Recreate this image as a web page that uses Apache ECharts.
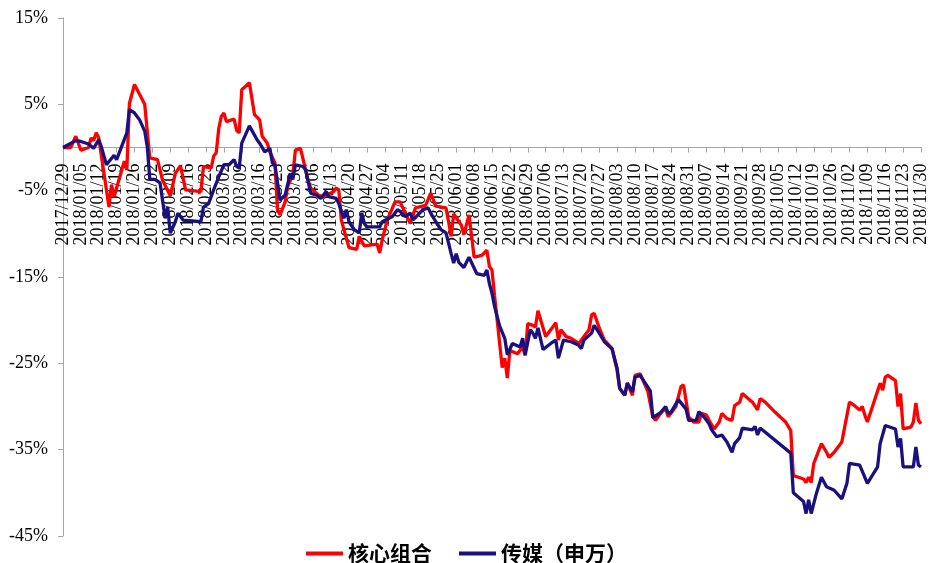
<!DOCTYPE html>
<html>
<head>
<meta charset="utf-8">
<script src="https://cdn.jsdelivr.net/npm/echarts@6/dist/echarts.min.js"></script>
<style>
  html, body { margin: 0; padding: 0; background: #fff; }
  #chart { width: 931px; height: 563px; }
</style>
</head>
<body>
<div id="chart"></div>
<script>
// Calendar range of the x axis (one category per day, labelled weekly)
const startDate = '2017/12/29';
const endDate = '2018/11/30';

// Y axis tick labels (percent)
const yTicks = [-45, -35, -25, -15, -5, 5, 15];

// Series names
const seriesNames = ['核心组合', '传媒（申万）'];

// 核心组合: cumulative return (%) at each date (MM/DD)
const coreDates = ['12/29','01/01','01/03','01/05','01/08','01/09','01/10','01/11','01/12','01/16','01/17','01/18','01/22','01/23','01/24','01/26','01/30','02/01','02/04','02/06','02/09','02/11','02/13','02/15','02/21','02/22','02/25','02/26','02/27','02/28','03/01','03/02','03/03','03/06','03/07','03/08','03/09','03/12','03/14','03/16','03/17','03/19','03/20','03/22','03/23','03/24','03/26','03/27','03/29','03/30','04/01','04/04','04/05','04/08','04/10','04/14','04/15','04/16','04/17','04/18','04/20','04/23','04/24','04/26','05/01','05/02','05/03','05/05','05/08','05/10','05/14','05/16','05/20','05/22','05/24','05/28','05/29','05/30','05/31','06/03','06/04','06/06','06/08','06/11','06/13','06/14','06/15','06/16','06/17','06/19','06/20','06/21','06/22','06/25','06/27','06/28','06/29','07/01','07/02','07/03','07/06','07/08','07/10','07/11','07/12','07/14','07/16','07/19','07/21','07/23','07/24','07/25','07/27','07/29','08/01','08/03','08/04','08/06','08/07','08/09','08/10','08/12','08/15','08/17','08/18','08/20','08/22','08/23','08/24','08/26','08/28','08/29','08/31','09/02','09/04','09/05','09/07','09/08','09/10','09/11','09/12','09/13','09/15','09/17','09/18','09/20','09/21','09/25','09/27','09/28','09/30','10/04','10/08','10/10','10/11','10/13','10/15','10/16','10/17','10/18','10/19','10/22','10/24','10/25','10/27','10/30','11/02','11/04','11/06','11/07','11/08','11/09','11/14','11/15','11/16','11/17','11/20','11/21','11/22','11/23','11/26','11/27','11/28','11/29','11/30'];
const coreValues = [0.0,0.0,1.3,-0.3,0.0,1.1,0.8,1.7,1.1,-6.9,-4.3,-5.7,-1.6,-2.6,5.1,7.3,5.0,-1.2,-1.4,-3.8,-5.6,-3.0,-2.1,-4.9,-5.1,-2.2,-2.4,-1.0,-0.6,2.2,3.6,4.0,3.0,3.3,2.0,1.7,6.7,7.5,3.8,3.2,1.3,0.5,-0.5,-1.8,-7.2,-7.8,-6.3,-4.5,-3.2,-0.3,-0.1,-3.8,-4.7,-5.5,-5.7,-5.1,-4.7,-4.9,-8.4,-9.5,-11.6,-11.8,-10.3,-11.4,-11.2,-12.2,-10.7,-8.4,-6.3,-6.3,-8.8,-7.0,-6.7,-5.3,-6.8,-7.0,-8.6,-10.3,-7.7,-9.0,-10.1,-7.8,-12.7,-12.5,-11.9,-13.8,-14.2,-17.2,-19.9,-25.5,-24.4,-26.7,-23.5,-23.9,-23.1,-24.1,-20.4,-20.6,-20.8,-18.9,-21.9,-21.1,-20.3,-22.3,-21.1,-21.9,-22.1,-22.7,-21.9,-21.1,-19.4,-19.2,-20.9,-22.3,-23.3,-25.8,-27.9,-28.7,-27.3,-28.7,-26.4,-26.2,-28.2,-31.2,-31.6,-30.8,-30.2,-31.2,-30.8,-30.0,-27.7,-27.5,-31.2,-31.8,-31.8,-30.8,-31.0,-31.6,-32.6,-32.2,-31.8,-30.8,-31.4,-31.6,-29.9,-29.5,-28.5,-29.5,-30.4,-29.1,-29.5,-30.7,-31.8,-32.8,-38.0,-38.2,-38.4,-38.8,-38.2,-38.8,-36.6,-34.3,-35.3,-35.9,-35.3,-34.1,-29.5,-29.9,-30.4,-30.0,-31.0,-31.8,-27.3,-28.1,-26.6,-26.4,-27.0,-30.0,-28.5,-32.6,-32.4,-31.8,-29.6,-31.6,-32.0];

// 传媒（申万）: cumulative return (%) at each date (MM/DD)
const mediaDates = ['12/29','01/03','01/05','01/08','01/10','01/12','01/13','01/15','01/18','01/19','01/23','01/24','01/26','01/28','01/30','01/31','02/01','02/03','02/05','02/07','02/08','02/09','02/11','02/12','02/14','02/21','02/22','02/24','02/26','02/28','03/02','03/04','03/06','03/07','03/08','03/09','03/12','03/15','03/16','03/18','03/20','03/21','03/22','03/24','03/26','03/28','03/29','03/30','04/02','04/03','04/05','04/07','04/09','04/11','04/12','04/15','04/16','04/18','04/19','04/20','04/22','04/24','04/25','04/26','04/27','05/02','05/03','05/07','05/09','05/10','05/12','05/14','05/15','05/17','05/19','05/21','05/22','05/24','05/26','05/28','05/30','05/31','06/01','06/02','06/04','06/06','06/09','06/12','06/13','06/14','06/15','06/16','06/18','06/20','06/21','06/23','06/26','06/27','06/28','06/30','07/01','07/02','07/03','07/05','07/08','07/10','07/11','07/13','07/16','07/19','07/20','07/21','07/24','07/25','07/27','07/29','08/01','08/03','08/04','08/06','08/07','08/09','08/10','08/12','08/16','08/17','08/20','08/22','08/23','08/24','08/27','08/30','08/31','09/03','09/04','09/06','09/08','09/09','09/11','09/13','09/15','09/17','09/18','09/20','09/21','09/25','09/26','09/27','09/28','10/10','10/11','10/15','10/16','10/17','10/18','10/20','10/22','10/24','10/27','10/30','11/01','11/02','11/06','11/09','11/13','11/14','11/16','11/18','11/20','11/21','11/22','11/23','11/27','11/28','11/29','11/30'];
const mediaValues = [0.0,0.8,0.7,0.4,-0.1,0.9,0.1,-2.0,-0.9,-1.4,1.7,4.4,4.0,3.2,1.9,0.1,-3.7,-3.7,-4.1,-8.2,-6.9,-9.9,-8.6,-7.6,-8.4,-8.6,-6.9,-6.5,-4.9,-3.4,-2.0,-2.0,-1.4,-2.2,-2.4,0.5,2.5,0.9,0.5,-0.5,-0.1,-1.8,-2.0,-6.1,-5.5,-3.0,-3.7,-2.0,-2.2,-2.6,-5.3,-5.5,-5.9,-5.1,-5.7,-5.9,-6.5,-8.2,-7.2,-8.6,-9.5,-9.9,-7.6,-8.8,-9.2,-9.2,-8.6,-8.0,-7.2,-7.4,-8.0,-7.6,-8.4,-7.8,-7.2,-7.0,-7.6,-8.6,-9.5,-9.9,-12.3,-13.4,-12.3,-13.3,-13.9,-12.7,-14.6,-14.8,-14.2,-15.8,-16.9,-18.4,-20.7,-22.1,-24.0,-22.7,-23.1,-22.1,-24.0,-21.1,-21.5,-22.1,-20.9,-23.4,-22.7,-22.3,-24.4,-22.3,-22.5,-22.9,-23.3,-22.3,-21.5,-20.6,-21.5,-22.5,-23.3,-25.6,-27.9,-28.7,-27.3,-28.3,-26.6,-26.4,-28.2,-31.3,-30.7,-30.0,-30.8,-30.7,-29.2,-30.3,-31.6,-31.6,-30.6,-31.2,-32.0,-32.7,-33.5,-33.3,-34.1,-35.3,-34.3,-33.6,-32.5,-32.7,-32.3,-33.3,-32.5,-35.4,-40.0,-41.0,-42.4,-40.8,-42.4,-40.1,-38.2,-39.3,-39.7,-40.7,-38.9,-36.6,-36.8,-38.9,-37.0,-34.3,-32.2,-32.4,-32.6,-34.7,-33.7,-37.0,-37.0,-34.7,-36.8,-37.0];

function pad(n) { return (n < 10 ? '0' : '') + n; }

// Daily categories between the start and end dates
function buildDays(from, to) {
  const out = [];
  const p = s => s.split('/').map(Number);
  const [y0, m0, d0] = p(from);
  const [y1, m1, d1] = p(to);
  let t = Date.UTC(y0, m0 - 1, d0);
  const end = Date.UTC(y1, m1 - 1, d1);
  while (t <= end) {
    const dt = new Date(t);
    out.push(dt.getUTCFullYear() + '/' + pad(dt.getUTCMonth() + 1) + '/' + pad(dt.getUTCDate()));
    t += 86400000;
  }
  return out;
}
const days = buildDays(startDate, endDate);

function fullDate(md) {
  return (md.startsWith('12/') ? '2017/' : '2018/') + md;
}
function pairs(dates, values) {
  return dates.map((d, i) => [fullDate(d), values[i]]);
}

const axisGrey = '#a6a6a6';
const serif = '"Liberation Serif", "Times New Roman", serif';
const gridBottom = 27;
const chartHeight = 563;

const chart = echarts.init(document.getElementById('chart'), null, { renderer: 'canvas' });
chart.setOption({
  animation: false,
  backgroundColor: '#ffffff',
  grid: { left: 63, right: 10, top: 18, bottom: gridBottom, containLabel: false, outerBoundsMode: 'none' },
  legend: {
    left: 301,
    top: 538,
    itemWidth: 37,
    itemHeight: 4,
    itemGap: 27,
    icon: 'rect',
    data: seriesNames,
    textStyle: { fontFamily: '"Noto Sans CJK SC", sans-serif', fontSize: 21, fontWeight: 'bold', color: '#000' }
  },
  xAxis: {
    type: 'category',
    data: days,
    boundaryGap: false,
    position: 'bottom',
    offset: 0,
    axisLine: { onZero: false, lineStyle: { color: axisGrey, width: 1 } },
    axisTick: { show: true, interval: 6, length: 5, lineStyle: { color: axisGrey } },
    axisLabel: {
      interval: 6,
      rotate: 90,
      margin: 16,
      color: '#000',
      fontFamily: serif,
      fontSize: 18
    },
    splitLine: { show: false }
  },
  yAxis: {
    type: 'value',
    min: -45,
    max: 15,
    axisLine: { show: true, lineStyle: { color: axisGrey, width: 1 } },
    axisTick: { show: true, length: 5, lineStyle: { color: axisGrey }, customValues: yTicks },
    axisLabel: {
      customValues: yTicks,
      formatter: v => v + '%',
      margin: 15,
      color: '#000',
      fontFamily: serif,
      fontSize: 18
    },
    splitLine: { show: false }
  },
  series: [
    {
      name: seriesNames[0],
      type: 'line',
      data: pairs(coreDates, coreValues),
      symbol: 'none',
      color: '#ff0000',
      lineStyle: { color: '#ff0000', width: 3.3 },
      z: 2
    },
    {
      name: seriesNames[1],
      type: 'line',
      data: pairs(mediaDates, mediaValues),
      symbol: 'none',
      color: '#1a1080',
      lineStyle: { color: '#1a1080', width: 3.3 },
      z: 3
    }
  ]
});

// Move the date axis (line, ticks, labels) up to the 0% level of the value scale
const zeroY = chart.convertToPixel({ yAxisIndex: 0 }, 0);
chart.setOption({ xAxis: { offset: zeroY - (chartHeight - gridBottom) } });
</script>
</body>
</html>
